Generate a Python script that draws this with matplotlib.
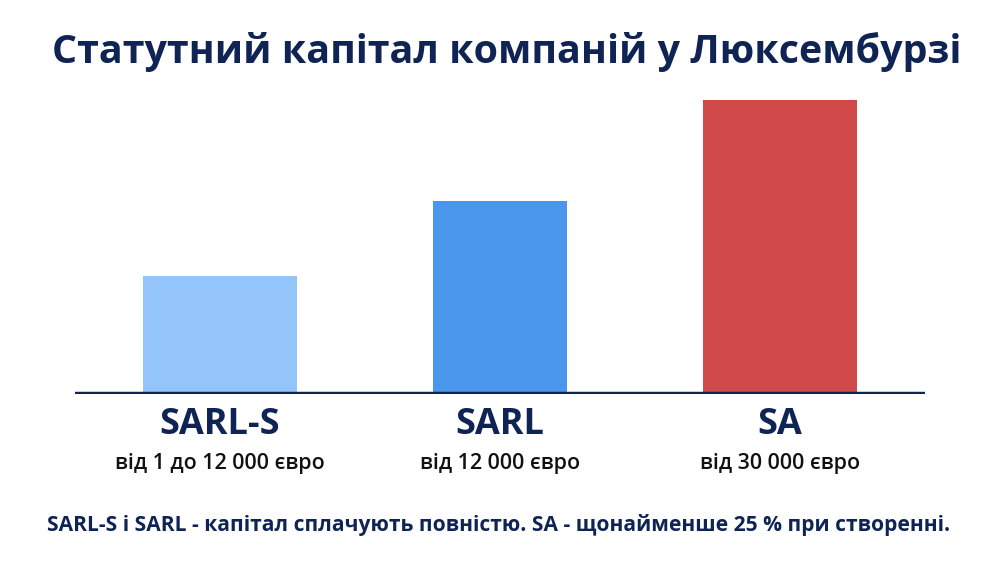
import matplotlib
matplotlib.use('Agg')
import matplotlib.pyplot as plt

# data (bar heights are visual only)
categories = ['SARL-S', 'SARL', 'SA']
ranges = ['від 1 до 12 000 євро', 'від 12 000 євро', 'від 30 000 євро']
heights = [118, 193, 294]
title = 'Статутний капітал компаній у Люксембурзі'
note = 'SARL-S і SARL - капітал сплачують повністю. SA - щонайменше 25 % при створенні.'

colors = ['#93c5fa', '#4a96ec', '#d04a4a']
widths = [0.55, 0.48, 0.55]
navy = '#0f2454'

plt.rcParams['font.family'] = ['Open Sans', 'DejaVu Sans']

fig = plt.figure(figsize=(10, 5.63), dpi=100)
fig.patch.set_facecolor('white')

# axes spans the baseline: x 75..925 px, y from baseline (394 px) up to 90 px
ax = fig.add_axes([0.075, 1 - 394 / 563, 0.85, (394 - 90) / 563])
x = list(range(len(categories)))
ax.bar(x, heights, width=widths, color=colors, zorder=2)
ax.set_xlim(-0.516, 2.517)
ax.set_ylim(0, 304)
ax.axhline(0, color=navy, lw=3.2, zorder=3)
for s in ax.spines.values():
    s.set_visible(False)
ax.set_xticks([])
ax.set_yticks([])

for xi, cat, rng in zip(x, categories, ranges):
    ax.annotate(cat, (xi, 0), xytext=(0, -22), textcoords='offset points',
                ha='center', va='center', fontsize=26, fontweight='bold', color=navy)
    ax.annotate(rng, (xi, 0), xytext=(0, -50), textcoords='offset points',
                ha='center', va='center', fontsize=15.4, fontweight='semibold', color='#111111')

fig.text(0.507, 1 - 52 / 563, title, ha='center', va='center',
         fontsize=28.4, fontweight='bold', color=navy)
fig.text(0.499, 1 - 525 / 563, note, ha='center', va='center',
         fontsize=15.1, fontweight='bold', color=navy)

fig.savefig('out.png', dpi=100)
